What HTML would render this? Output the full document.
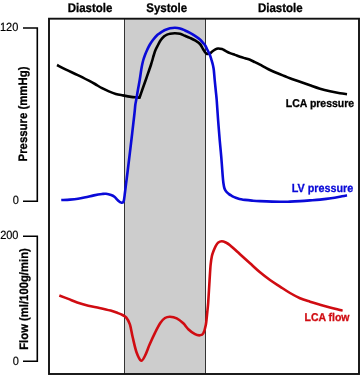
<!DOCTYPE html>
<html><head><meta charset="utf-8"><style>
html,body{margin:0;padding:0;background:#fff;}
svg{display:block;will-change:transform;}
text{text-rendering:geometricPrecision;}
text{font-family:"Liberation Sans",sans-serif;}
.b{font-weight:bold;}
</style></head><body>
<svg width="360" height="375" viewBox="0 0 360 375">
<rect x="0" y="0" width="360" height="375" fill="#fff"/>
<rect x="124" y="19" width="82" height="355" fill="#cdcdcd"/>
<line x1="124.5" y1="19" x2="124.5" y2="374" stroke="#333" stroke-width="1"/>
<line x1="205.5" y1="19" x2="205.5" y2="374" stroke="#333" stroke-width="1"/>
<rect x="49" y="18.7" width="310" height="355.3" fill="none" stroke="#111" stroke-width="1.9"/>
<path d="M23,28 H37.3 V201.3 H23" fill="none" stroke="#000" stroke-width="1.6"/>
<path d="M23,236.2 H37.3 V361.3 H23" fill="none" stroke="#000" stroke-width="1.6"/>
<text transform="translate(18.3,30.9) scale(0.9259,1)" font-size="11.88" text-anchor="end" fill="#000" stroke="#000" stroke-width="0.18">120</text>
<text transform="translate(18.9,203.6) scale(0.9259,1)" font-size="11.88" text-anchor="end" fill="#000" stroke="#000" stroke-width="0.18">0</text>
<text transform="translate(18.5,238.7) scale(0.9259,1)" font-size="11.88" text-anchor="end" fill="#000" stroke="#000" stroke-width="0.18">200</text>
<text transform="translate(18.9,364.6) scale(0.9259,1)" font-size="11.88" text-anchor="end" fill="#000" stroke="#000" stroke-width="0.18">0</text>
<text class="b" transform="translate(90,11.7) scale(0.9259,1)" font-size="12.42" text-anchor="middle" fill="#000" stroke="#000" stroke-width="0.3">Diastole</text>
<text class="b" transform="translate(166.7,11.7) scale(0.9259,1)" font-size="12.42" text-anchor="middle" fill="#000" stroke="#000" stroke-width="0.3">Systole</text>
<text class="b" transform="translate(280.3,11.7) scale(0.9259,1)" font-size="12.42" text-anchor="middle" fill="#000" stroke="#000" stroke-width="0.3">Diastole</text>
<text class="b" transform="translate(27.1,114) rotate(-90) scale(0.9259,1)" font-size="12.31" text-anchor="middle" fill="#000" stroke="#000" stroke-width="0.3">Pressure (mmHg)</text>
<text class="b" transform="translate(27.9,299) rotate(-90) scale(0.9259,1)" font-size="12.20" text-anchor="middle" fill="#000" stroke="#000" stroke-width="0.3">Flow (ml/100g/min)</text>
<text class="b" transform="translate(320,106.7) scale(0.9259,1)" font-size="11.34" text-anchor="middle" fill="#000" stroke="#000" stroke-width="0.3">LCA pressure</text>
<text class="b" transform="translate(322.5,192.1) scale(0.9259,1)" font-size="11.66" text-anchor="middle" fill="#0a0ad8" stroke="#0a0ad8" stroke-width="0.3">LV pressure</text>
<text class="b" transform="translate(327,320.8) scale(0.9259,1)" font-size="11.34" text-anchor="middle" fill="#d00c12" stroke="#d00c12" stroke-width="0.3">LCA flow</text>
<path d="M57.00,65.00 C58.50,65.77 62.53,67.92 66.00,69.60 C69.47,71.28 73.98,73.25 77.80,75.10 C81.62,76.95 86.03,79.22 88.90,80.70 C91.77,82.18 92.82,82.75 95.00,84.00 C97.18,85.25 99.68,86.97 102.00,88.20 C104.32,89.43 106.60,90.45 108.90,91.40 C111.20,92.35 113.48,93.23 115.80,93.90 C118.12,94.57 120.25,94.90 122.80,95.40 C125.35,95.90 128.78,96.57 131.10,96.90 C133.42,97.23 135.30,97.27 136.70,97.40 C138.10,97.53 139.03,97.65 139.50,97.70 C140.05,96.13 141.72,91.38 142.80,88.30 C143.88,85.22 144.93,82.25 146.00,79.20 C147.07,76.15 148.38,72.37 149.20,70.00 C150.02,67.63 150.37,66.67 150.90,65.00 C151.43,63.33 151.92,61.67 152.40,60.00 C152.88,58.33 153.28,56.67 153.80,55.00 C154.32,53.33 154.80,51.67 155.50,50.00 C156.20,48.33 157.12,46.67 158.00,45.00 C158.88,43.33 159.77,41.45 160.80,40.00 C161.83,38.55 163.17,37.20 164.20,36.30 C165.23,35.40 166.03,35.03 167.00,34.60 C167.97,34.17 168.67,33.92 170.00,33.70 C171.33,33.48 173.33,33.28 175.00,33.30 C176.67,33.32 178.33,33.38 180.00,33.80 C181.67,34.22 183.33,35.12 185.00,35.80 C186.67,36.48 188.33,37.13 190.00,37.90 C191.67,38.67 193.33,39.38 195.00,40.40 C196.67,41.42 198.67,42.57 200.00,44.00 C201.33,45.43 202.17,47.63 203.00,49.00 C203.83,50.37 204.33,51.38 205.00,52.20 C205.67,53.02 206.67,53.62 207.00,53.90 C207.33,53.88 208.42,53.93 209.00,53.80 C209.58,53.67 209.92,53.52 210.50,53.10 C211.08,52.68 211.75,51.88 212.50,51.30 C213.25,50.72 214.08,50.07 215.00,49.60 C215.92,49.13 216.83,48.58 218.00,48.50 C219.17,48.42 220.83,48.75 222.00,49.10 C223.17,49.45 223.67,49.93 225.00,50.60 C226.33,51.27 228.33,52.38 230.00,53.10 C231.67,53.82 233.33,54.30 235.00,54.90 C236.67,55.50 238.33,56.13 240.00,56.70 C241.67,57.27 243.33,57.78 245.00,58.30 C246.67,58.82 248.33,59.15 250.00,59.80 C251.67,60.45 253.33,61.38 255.00,62.20 C256.67,63.02 258.33,63.83 260.00,64.70 C261.67,65.57 263.33,66.52 265.00,67.40 C266.67,68.28 268.33,69.20 270.00,70.00 C271.67,70.80 273.33,71.48 275.00,72.20 C276.67,72.92 278.33,73.62 280.00,74.30 C281.67,74.98 283.33,75.63 285.00,76.30 C286.67,76.97 287.50,77.40 290.00,78.30 C292.50,79.20 296.67,80.53 300.00,81.70 C303.33,82.87 306.67,84.13 310.00,85.30 C313.33,86.47 316.67,87.70 320.00,88.70 C323.33,89.70 326.67,90.53 330.00,91.30 C333.33,92.07 337.17,92.82 340.00,93.30 C342.83,93.78 345.83,94.05 347.00,94.20" fill="none" stroke="#000000" stroke-width="2.6" stroke-linejoin="round" stroke-linecap="butt"/>
<path d="M61.25,200.00 C62.71,199.93 67.21,199.80 70.00,199.60 C72.79,199.40 75.40,199.18 78.00,198.80 C80.60,198.42 82.95,197.87 85.60,197.30 C88.25,196.73 91.13,195.95 93.90,195.40 C96.67,194.85 100.18,194.27 102.20,194.00 C104.22,193.73 104.52,193.63 106.00,193.80 C107.48,193.97 109.70,194.52 111.10,195.00 C112.50,195.48 113.28,195.83 114.40,196.70 C115.52,197.57 116.68,199.22 117.80,200.20 C118.92,201.18 120.13,202.38 121.10,202.60 C122.07,202.82 122.95,203.23 123.60,201.50 C124.25,199.77 124.53,195.62 125.00,192.20 C125.47,188.78 125.93,184.70 126.40,181.00 C126.87,177.30 126.97,176.83 127.80,170.00 C128.63,163.17 130.30,149.33 131.40,140.00 C132.50,130.67 133.75,119.83 134.40,114.00 C135.05,108.17 135.00,107.33 135.30,105.00 C135.60,102.67 135.77,102.50 136.20,100.00 C136.63,97.50 137.32,93.33 137.90,90.00 C138.48,86.67 139.15,83.33 139.70,80.00 C140.25,76.67 140.80,72.50 141.20,70.00 C141.60,67.50 141.75,66.67 142.10,65.00 C142.45,63.33 142.82,61.67 143.30,60.00 C143.78,58.33 144.37,56.67 145.00,55.00 C145.63,53.33 146.33,51.67 147.10,50.00 C147.87,48.33 148.63,46.67 149.60,45.00 C150.57,43.33 151.62,41.67 152.90,40.00 C154.18,38.33 156.12,36.15 157.30,35.00 C158.48,33.85 159.13,33.70 160.00,33.10 C160.87,32.50 161.67,31.92 162.50,31.40 C163.33,30.88 163.75,30.52 165.00,30.00 C166.25,29.48 168.33,28.68 170.00,28.30 C171.67,27.92 173.33,27.68 175.00,27.70 C176.67,27.72 178.33,27.93 180.00,28.40 C181.67,28.87 183.33,29.75 185.00,30.50 C186.67,31.25 188.33,32.02 190.00,32.90 C191.67,33.78 193.33,34.72 195.00,35.80 C196.67,36.88 198.67,38.23 200.00,39.40 C201.33,40.57 202.15,41.83 203.00,42.80 C203.85,43.77 204.35,44.00 205.10,45.20 C205.85,46.40 206.70,48.37 207.50,50.00 C208.30,51.63 209.23,53.33 209.90,55.00 C210.57,56.67 211.00,58.33 211.50,60.00 C212.00,61.67 212.52,63.33 212.90,65.00 C213.28,66.67 213.50,67.50 213.80,70.00 C214.10,72.50 214.38,76.67 214.70,80.00 C215.02,83.33 215.37,86.67 215.70,90.00 C216.03,93.33 216.30,95.00 216.70,100.00 C217.10,105.00 217.60,113.33 218.10,120.00 C218.60,126.67 219.17,133.78 219.70,140.00 C220.23,146.22 220.82,151.52 221.30,157.30 C221.78,163.08 222.25,170.42 222.60,174.70 C222.95,178.98 223.08,180.70 223.40,183.00 C223.72,185.30 224.00,187.03 224.50,188.50 C225.00,189.97 225.70,190.90 226.40,191.80 C227.10,192.70 227.85,193.25 228.70,193.90 C229.55,194.55 230.58,195.17 231.50,195.70 C232.42,196.23 233.13,196.65 234.20,197.10 C235.27,197.55 236.78,198.05 237.90,198.40 C239.02,198.75 239.73,198.95 240.90,199.20 C242.07,199.45 243.05,199.67 244.90,199.90 C246.75,200.13 249.48,200.40 252.00,200.60 C254.52,200.80 255.33,200.90 260.00,201.10 C264.67,201.30 275.00,201.72 280.00,201.80 C285.00,201.88 286.67,201.72 290.00,201.60 C293.33,201.48 296.67,201.30 300.00,201.10 C303.33,200.90 306.67,200.65 310.00,200.40 C313.33,200.15 316.50,199.95 320.00,199.60 C323.50,199.25 327.33,198.85 331.00,198.30 C334.67,197.75 339.33,196.80 342.00,196.30 C344.67,195.80 346.17,195.47 347.00,195.30" fill="none" stroke="#0a0ad8" stroke-width="2.6" stroke-linejoin="round" stroke-linecap="butt"/>
<path d="M59.30,295.50 C60.80,296.07 65.32,297.75 68.30,298.90 C71.28,300.05 73.87,301.27 77.20,302.40 C80.53,303.53 84.60,304.78 88.30,305.70 C92.00,306.62 95.68,307.08 99.40,307.90 C103.12,308.72 107.50,309.73 110.60,310.60 C113.70,311.47 116.02,312.37 118.00,313.10 C119.98,313.83 121.12,314.25 122.50,315.00 C123.88,315.75 125.07,316.05 126.30,317.60 C127.53,319.15 128.83,321.02 129.90,324.30 C130.97,327.58 131.60,332.65 132.70,337.30 C133.80,341.95 135.10,348.32 136.50,352.20 C137.90,356.08 139.70,359.97 141.10,360.60 C142.50,361.23 143.50,358.63 144.90,356.00 C146.30,353.37 147.80,348.70 149.50,344.80 C151.20,340.90 153.30,336.23 155.10,332.60 C156.90,328.97 158.65,325.43 160.30,323.00 C161.95,320.57 163.38,319.05 165.00,318.00 C166.62,316.95 168.05,316.65 170.00,316.70 C171.95,316.75 174.48,317.20 176.70,318.30 C178.92,319.40 181.37,321.48 183.30,323.30 C185.23,325.12 186.35,327.38 188.30,329.20 C190.25,331.02 193.05,333.18 195.00,334.20 C196.95,335.22 198.62,335.45 200.00,335.30 C201.38,335.15 202.33,335.02 203.30,333.30 C204.27,331.58 205.13,328.55 205.80,325.00 C206.47,321.45 206.90,315.73 207.30,312.00 C207.70,308.27 207.83,307.72 208.20,302.60 C208.57,297.48 209.10,287.57 209.50,281.30 C209.90,275.03 210.20,269.22 210.60,265.00 C211.00,260.78 211.40,258.37 211.90,256.00 C212.40,253.63 212.95,252.50 213.60,250.80 C214.25,249.10 215.02,247.18 215.80,245.80 C216.58,244.42 217.32,243.26 218.30,242.50 C219.28,241.74 220.45,241.25 221.70,241.25 C222.95,241.25 224.42,241.84 225.80,242.50 C227.18,243.16 227.63,243.25 230.00,245.20 C232.37,247.15 236.67,251.18 240.00,254.20 C243.33,257.22 246.67,260.28 250.00,263.30 C253.33,266.32 256.67,269.52 260.00,272.30 C263.33,275.08 266.67,277.62 270.00,280.00 C273.33,282.38 276.67,284.43 280.00,286.60 C283.33,288.77 286.67,291.07 290.00,293.00 C293.33,294.93 296.67,296.75 300.00,298.20 C303.33,299.65 306.67,300.62 310.00,301.70 C313.33,302.78 316.67,303.73 320.00,304.70 C323.33,305.67 326.67,306.62 330.00,307.50 C333.33,308.38 337.90,309.47 340.00,310.00 C342.10,310.53 342.17,310.58 342.60,310.70" fill="none" stroke="#d00c12" stroke-width="2.6" stroke-linejoin="round" stroke-linecap="butt"/>
</svg>
</body></html>
